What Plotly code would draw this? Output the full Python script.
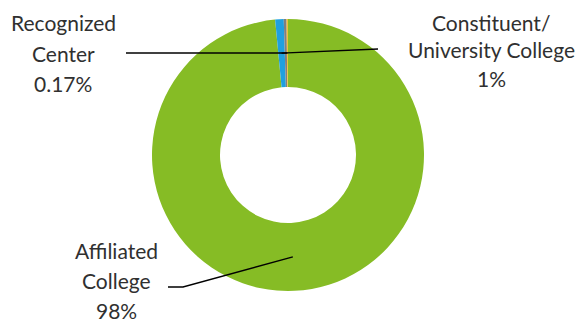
import math
import plotly.graph_objects as go

# ---- data ----
categories = ["Affiliated College", "Constituent/University College", "Other", "Recognized Center"]
shares = [98.49, 1.01, 0.33, 0.17]
label_text = ["Affiliated<br>College<br>98%", "Constituent/<br>University College<br>1%", "", "Recognized<br>Center<br>0.17%"]
colors = ["#86BC25", "#1FA0DF", "#7F7F7F", "#F0C13A"]

W, H = 583, 322
cx, cy, R, hole = 288, 155, 136, 0.5

fig = go.Figure(go.Pie(
    labels=categories, values=shares, sort=False, direction="clockwise", rotation=0,
    hole=hole, marker=dict(colors=colors, line=dict(width=0)),
    textinfo="none", showlegend=False,
    domain=dict(x=[(cx - R) / W, (cx + R) / W], y=[(H - cy - R) / H, (H - cy + R) / H]),
))

# label placement (pixel positions of label centres) and leader start points
label_pos = {
    "Affiliated College": (116, 280),
    "Constituent/University College": (491, 50),
    "Recognized Center": (63, 53),
}
line_gap = {"Affiliated College": 30, "Constituent/University College": 28, "Recognized Center": 30}
leader_start = {
    "Affiliated College": [(168, 287), (183, 287)],
    "Constituent/University College": [(378, 49)],
    "Recognized Center": [(126, 53)],
}

total = sum(shares)
cum = 0.0
rmid = R * (1 + hole) / 2
font = dict(family="Lato, Open Sans, sans-serif", size=21, color="#303030")
for cat, val, txt in zip(categories, shares, label_text):
    mid = (cum + val / 2) / total
    cum += val
    if cat not in label_pos:
        continue
    th = 2 * math.pi * mid
    px = cx + rmid * math.sin(th)
    py = cy - rmid * math.cos(th)
    pts = leader_start[cat] + [(px, py)]
    path = "M " + " L ".join(f"{x / W},{1 - y / H}" for x, y in pts)
    fig.add_shape(type="path", path=path, xref="paper", yref="paper",
                  line=dict(color="black", width=1.3))
    lx, ly = label_pos[cat]
    lines = txt.split("<br>")
    for i, ln in enumerate(lines):
        yy = ly + (i - (len(lines) - 1) / 2) * line_gap[cat]
        fig.add_annotation(text=ln, x=lx / W, y=1 - yy / H, xref="paper", yref="paper",
                           showarrow=False, xanchor="center", yanchor="middle",
                           align="center", font=font)

fig.update_layout(width=W, height=H, margin=dict(l=0, r=0, t=0, b=0),
                  paper_bgcolor="white", plot_bgcolor="white")
fig.write_html("out.html", config={"displayModeBar": False},
               post_script="document.body.style.margin='0';document.body.style.padding='0';")
